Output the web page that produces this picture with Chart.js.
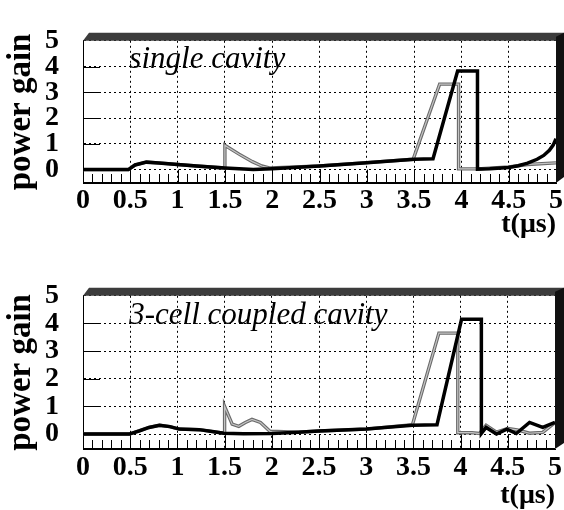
<!DOCTYPE html>
<html>
<head>
<meta charset="utf-8">
<script src="https://cdn.jsdelivr.net/npm/chart.js@4.4.0/dist/chart.umd.min.js"></script>
<style>
  html, body { margin: 0; padding: 0; background: #fff; }
  .wrap { position: absolute; left: 0; width: 564px; height: 255px; }
  #w1 { top: 0; }
  #w2 { top: 255px; }
</style>
</head>
<body>
<div class="wrap" id="w1"><canvas id="c1" width="564" height="255"></canvas></div>
<div class="wrap" id="w2"><canvas id="c2" width="564" height="255"></canvas></div>
<script>
const xTickVals = [0, 0.5, 1, 1.5, 2, 2.5, 3, 3.5, 4, 4.5, 5];
const yTickVals = [0, 1, 2, 3, 4, 5];

// single cavity
const singleBlackT = [0, 0.48, 0.55, 0.67, 0.8, 1.0, 1.2, 1.5, 1.8, 2.0, 2.5, 3.0, 3.5, 3.7, 3.96, 4.17, 4.17, 4.3, 4.5, 4.6, 4.7, 4.8, 4.87, 4.93, 4.97, 5.0];
const singleBlackG = [0, 0, 0.18, 0.29, 0.26, 0.2, 0.14, 0.06, 0, 0.03, 0.14, 0.27, 0.4, 0.42, 3.83, 3.83, 0.02, 0.03, 0.08, 0.15, 0.25, 0.4, 0.55, 0.75, 0.95, 1.2];
const singleGrayT = [0, 0.48, 0.55, 0.67, 0.8, 1.0, 1.2, 1.5, 1.5, 1.65, 1.79, 1.89, 1.98, 2.5, 3.0, 3.49, 3.77, 3.97, 3.97, 4.17, 4.5, 4.7, 5.0];
const singleGrayG = [0, 0, 0.18, 0.29, 0.26, 0.2, 0.14, 0.06, 0.94, 0.6, 0.31, 0.14, 0.06, 0.14, 0.27, 0.4, 3.32, 3.32, 0.03, 0.03, 0.1, 0.2, 0.26];

// 3-cell coupled cavity
const coupledBlackT = [0, 0.49, 0.6, 0.7, 0.81, 0.92, 1.02, 1.23, 1.37, 1.49, 1.7, 2.0, 2.28, 2.5, 3.0, 3.49, 3.75, 4.01, 4.22, 4.22, 4.27, 4.38, 4.49, 4.59, 4.73, 4.87, 5.0];
const coupledBlackG = [0, 0, 0.12, 0.24, 0.32, 0.27, 0.18, 0.16, 0.09, 0.03, 0.01, 0.02, 0.07, 0.11, 0.18, 0.32, 0.34, 4.15, 4.15, 0.02, 0.24, 0.0, 0.18, 0.02, 0.42, 0.24, 0.42];
const coupledGrayT = [0, 0.49, 0.6, 0.7, 0.81, 0.92, 1.02, 1.23, 1.37, 1.5, 1.5, 1.58, 1.65, 1.72, 1.79, 1.88, 1.98, 2.28, 2.5, 3.0, 3.49, 3.77, 3.97, 3.97, 4.12, 4.2, 4.27, 4.38, 4.5, 4.6, 4.73, 4.87, 5.0];
const coupledGrayG = [0, 0, 0.12, 0.24, 0.32, 0.27, 0.18, 0.16, 0.09, 0.03, 1.0, 0.36, 0.28, 0.42, 0.53, 0.42, 0.1, 0.07, 0.11, 0.18, 0.34, 3.65, 3.65, 0.05, 0.05, 0.02, 0.32, 0.07, 0.2, 0.15, 0.03, 0.06, 0.42];

const serif = "'Liberation Serif', 'DejaVu Serif', serif";

function pts(ts, gs) {
  return ts.map((t, i) => ({ x: t, y: gs[i] }));
}

// minor ticks, inner ticks, shaded top/right border and the caption
const framePlugin = {
  id: 'frame',
  beforeDatasetsDraw(chart, args, opts) {
    const { ctx, chartArea: a, scales: { x, y } } = chart;
    const y0 = y.getPixelForValue(0);
    ctx.save();
    ctx.strokeStyle = '#000';
    ctx.lineWidth = 1;
    ctx.beginPath();
    for (let i = 1; i < 50; i++) {
      const px = Math.round(x.getPixelForValue(i / 10)) + 0.5;
      if (i % 5 === 0) {
        ctx.moveTo(px, y0);
        ctx.lineTo(px, a.bottom);
      } else {
        ctx.moveTo(px, a.bottom);
        ctx.lineTo(px, a.bottom - 9);
      }
    }
    for (let v = 1; v <= 4; v++) {
      const py = Math.round(y.getPixelForValue(v)) + 0.5;
      ctx.moveTo(a.left, py);
      ctx.lineTo(a.left + 17, py);
    }
    ctx.moveTo(a.left + 0.5, a.top);
    ctx.lineTo(a.left + 0.5, a.bottom);
    ctx.moveTo(a.left, a.bottom - 0.5);
    ctx.lineTo(a.right, a.bottom - 0.5);
    ctx.stroke();

    ctx.fillStyle = '#000';
    ctx.font = 'italic 31px ' + serif;
    ctx.textBaseline = 'alphabetic';
    ctx.fillText(opts.label, x.getPixelForValue(0.49), y.getPixelForValue(4) + 1);
    ctx.restore();
  },
  afterDraw(chart) {
    const { ctx, chartArea: a, width } = chart;
    ctx.save();
    ctx.fillStyle = '#3c3c3c';
    ctx.beginPath();
    ctx.moveTo(a.left, a.top);
    ctx.lineTo(a.left + 6, a.top - 8);
    ctx.lineTo(width, a.top - 8);
    ctx.lineTo(width, a.top);
    ctx.closePath();
    ctx.fill();
    ctx.fillStyle = '#111';
    ctx.beginPath();
    ctx.moveTo(a.right, a.top - 4);
    ctx.lineTo(width, a.top - 8);
    ctx.lineTo(width, a.bottom - 6);
    ctx.lineTo(a.right, a.bottom);
    ctx.closePath();
    ctx.fill();
    ctx.restore();
  }
};

function makeChart(id, c) {
  const grayPts = pts(c.grayT, c.grayG);
  return new Chart(document.getElementById(id), {
    type: 'line',
    data: {
      datasets: [
        { data: pts(c.blackT, c.blackG), borderColor: '#000', borderWidth: 3.5 },
        // gray trace drawn hollow: light core over a darker edge
        { data: grayPts, borderColor: '#c4c4c4', borderWidth: 1.2 },
        { data: grayPts, borderColor: '#6a6a6a', borderWidth: 3.4 }
      ]
    },
    options: {
      responsive: false,
      animation: false,
      devicePixelRatio: 1,
      layout: { padding: { top: c.top, right: 5, left: 0, bottom: 0 } },
      elements: {
        point: { radius: 0 },
        line: { tension: 0, borderJoinStyle: 'miter', fill: false }
      },
      plugins: {
        legend: { display: false },
        tooltip: { enabled: false },
        frame: { label: c.label }
      },
      scales: {
        x: {
          type: 'linear',
          min: 0,
          max: 5,
          afterBuildTicks: s => { s.ticks = xTickVals.map(v => ({ value: v })); },
          afterFit: s => { s.height = 255 - c.bottom; },
          ticks: {
            callback: v => String(v),
            color: '#000',
            font: { family: serif, size: 28, weight: 'bold' },
            padding: c.xPad,
            maxRotation: 0,
            autoSkip: false
          },
          grid: { color: '#000', lineWidth: 1, drawTicks: false },
          border: { display: true, color: '#000', dash: [2, 3] },
          title: {
            display: true,
            text: 't(\u03bcs)',
            align: 'end',
            color: '#000',
            font: { family: serif, size: 28, weight: 'bold', lineHeight: 1 },
            padding: { top: 0, bottom: c.tPad }
          }
        },
        y: {
          type: 'linear',
          min: c.ymin,
          max: 5,
          afterBuildTicks: s => { s.ticks = yTickVals.map(v => ({ value: v })); },
          afterFit: s => { s.width = 83; },
          ticks: {
            color: '#000',
            font: { family: serif, size: 28, weight: 'bold' },
            padding: 24,
            autoSkip: false
          },
          grid: { color: '#000', lineWidth: 1, drawTicks: false },
          border: { display: true, color: '#000', dash: [2, 3] },
          title: {
            display: true,
            text: 'power gain',
            color: '#000',
            font: { family: serif, size: 33, weight: 'bold' },
            padding: { top: 2, bottom: 0 }
          }
        }
      }
    },
    plugins: [framePlugin]
  });
}

makeChart('c1', {
  blackT: singleBlackT, blackG: singleBlackG,
  grayT: singleGrayT, grayG: singleGrayG,
  label: 'single cavity',
  top: 20.5, bottom: 183, ymin: -0.52, xPad: 1, tPad: 16
});

makeChart('c2', {
  blackT: coupledBlackT, blackG: coupledBlackG,
  grayT: coupledGrayT, grayG: coupledGrayG,
  label: '3-cell coupled cavity',
  top: 36, bottom: 194, ymin: -0.54, xPad: 2, tPad: 0
});
</script>
</body>
</html>
